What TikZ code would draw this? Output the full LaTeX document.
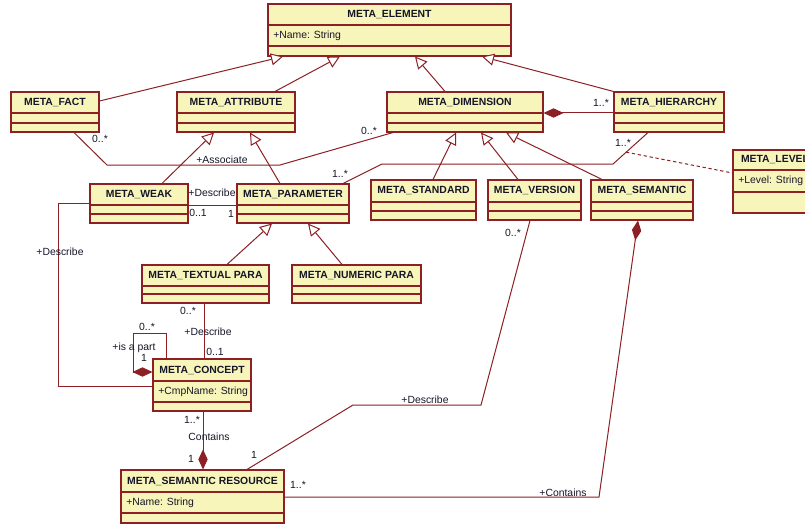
\documentclass[tikz,border=0pt]{standalone}
\usepackage{fontspec}
\setmainfont{Liberation Sans}
\usetikzlibrary{arrows.meta,calc}
\definecolor{umlred}{RGB}{140,32,36}
\definecolor{umlfill}{RGB}{248,245,187}
\definecolor{umltext}{RGB}{22,22,40}
\newcommand{\umlclass}[9]{%
  \node[classbox, minimum width={(#4-#2)*0.75pt}, minimum height={(#5-#3)*0.75pt}] (#1) at ({(#2+#4)/2},{(#3+#5)/2}) {};
  \draw[boxline] (#2,#6) -- (#4,#6) (#2,#7) -- (#4,#7);
  \node[titletext] (#1-title) at ({(#2+#4)/2},{(#3+#6)/2}) {#8};
  \if\relax\detokenize{#9}\relax\else
    \node[attrtext] (#1-attr) at ({#2+5},{(#6+#7)/2}) {#9};
  \fi
}
\begin{document}
\begin{tikzpicture}[x=0.75pt,y=-0.75pt,
  font=\fontsize{7.8}{9}\selectfont,
  classbox/.style={draw=umlred, fill=umlfill, line width=0.8pt, inner sep=0pt, rectangle},
  boxline/.style={draw=umlred, line width=0.8pt},
  titletext/.style={font=\fontsize{7.8}{9}\selectfont\bfseries, text=umltext, inner sep=0pt},
  attrtext/.style={anchor=west, text=umltext, inner sep=0pt},
  conn/.style={draw=umlred, line width=0.75pt},
  gen/.style={conn, -{Triangle[length=9pt,width=9pt,fill=white]}},
  comp/.style={conn, -{Diamond[length=15pt,width=7pt]}},
  lbl/.style={text=umltext, inner sep=0pt}]
\clip (0,0) rectangle (805,524);
\fill[white] (0,0) rectangle (805,524);

% classes
\umlclass{elem}{268}{4}{511}{56}{25}{46}{META\_ELEMENT}{+Name: String}
\umlclass{fact}{11}{92}{99}{132}{113}{123}{META\_FACT}{}
\umlclass{attr}{177}{92}{295}{132}{113}{123}{META\_ATTRIBUTE}{}
\umlclass{dim}{387}{92}{543}{132}{113}{123}{META\_DIMENSION}{}
\umlclass{hier}{614}{92}{724}{132}{113}{123}{META\_HIERARCHY}{}
\umlclass{level}{733}{150}{817}{213}{170}{192}{META\_LEVEL}{+Level: String}
\umlclass{weak}{90}{184}{188}{223}{205}{214}{META\_WEAK}{}
\umlclass{param}{237}{184}{349}{223}{205}{214}{META\_PARAMETER}{}
\umlclass{std}{371}{180}{476}{220}{202}{211}{META\_STANDARD}{}
\umlclass{ver}{488}{180}{581}{220}{202}{211}{META\_VERSION}{}
\umlclass{sem}{591}{180}{693}{220}{202}{211}{META\_SEMANTIC}{}
\umlclass{textual}{142}{265}{269}{303}{286}{294}{META\_TEXTUAL PARA}{}
\umlclass{numeric}{292}{265}{421}{303}{286}{294}{META\_NUMERIC PARA}{}
\umlclass{concept}{153}{359}{251}{411}{381}{402}{META\_CONCEPT}{+CmpName: String}
\umlclass{sr}{121}{470}{284}{523}{492}{513}{META\_SEMANTIC RESOURCE}{+Name: String}

% generalizations
\draw[gen] (fact.east |- 0,101) -- (elem.south -| 283,0);
\draw[gen] (attr.north -| 275,0) -- (elem.south -| 340,0);
\draw[gen] (dim.north -| 445,0) -- (elem.south -| 415,0);
\draw[gen] (hier.north west) -- (elem.south -| 482,0);
\draw[gen] (weak.north -| 162,0) -- (attr.south -| 214,0);
\draw[gen] (param.north -| 280,0) -- (attr.south -| 250,0);
\draw[gen] (std.north -| 433,0) -- (dim.south -| 456,0);
\draw[gen] (ver.north -| 518,0) -- (dim.south -| 481,0);
\draw[gen] (sem.north -| 602,0) -- (dim.south -| 506,0);
\draw[gen] (textual.north -| 227,0) -- (param.south -| 272,0);
\draw[gen] (numeric.north -| 342,0) -- (param.south -| 308,0);

% composition dimension - hierarchy
\draw[comp] (hier.west |- 0,113) -- (dim.east |- 0,113);
\node[lbl] (l1) at (601,103) {1..*};

% association fact - dimension
\coordinate (fa1) at (107,165);
\coordinate (fa2) at (280,165);
\draw[conn] (fact.south -| 74,0) -- (fa1) -- (fa2) -- (dim.south -| 393,0);
\node[lbl] (l2) at (100,139) {0..*};
\node[lbl] (l3) at (369,131) {0..*};
\node[lbl] (l4) at (222,160) {+Associate};

% association parameter - hierarchy
\coordinate (ph1) at (382,164);
\coordinate (ph2) at (613,164);
\coordinate (ph3) at (648,132);
\draw[conn] (param.north -| 343,0) -- (ph1) -- (ph2) -- (hier.south -| 648,0);
\node[lbl] (l5) at (340,174) {1..*};
\node[lbl] (l6) at (623,143) {1..*};
\coordinate (lvlA) at ($(ph2)!0.37!(ph3)$);
\draw[conn, dash pattern=on 2.5pt off 2pt] (lvlA) -- (level.west |- 0,173);

% weak - parameter
\draw[conn] (weak.east |- 0,205) -- (param.west |- 0,205);
\node[lbl] (l7) at (212,193) {+Describe};
\node[lbl] (l8) at (198,213) {0..1};
\node[lbl] (l9) at (231,214) {1};

% weak - concept
\coordinate (wc1) at (58,203);
\coordinate (wc2) at (58,386);
\draw[conn] (weak.west |- 0,203) -- (wc1) -- (wc2) -- (concept.west |- 0,386);
\node[lbl] (l10) at (60,252) {+Describe};

% textual - concept
\draw[conn] (textual.south -| 204,0) -- (concept.north -| 204,0);
\node[lbl] (l11) at (188,311) {0..*};
\node[lbl] (l12) at (208,332) {+Describe};
\node[lbl] (l13) at (215,352) {0..1};

% concept self association
\coordinate (cs1) at (166,333);
\coordinate (cs2) at (133,333);
\coordinate (cs3) at (133,372);
\draw[comp] (concept.north -| 166,0) -- (cs1) -- (cs2) -- (cs3) -- (concept.west |- 0,372);
\node[lbl] (l14) at (147,327) {0..*};
\node[lbl] (l15) at (134,348) {+is a part};
\node[lbl] (l16) at (144,358) {1};

% concept - semantic resource
\draw[comp] (concept.south -| 203,0) -- (sr.north -| 203,0);
\node[lbl] (l17) at (192,420) {1..*};
\node[lbl] (l18) at (209,437) {Contains};
\node[lbl] (l19) at (191,459) {1};

% version - semantic resource
\coordinate (vs1) at (481,405);
\coordinate (vs2) at (353,405);
\draw[conn] (ver.south -| 530,0) -- (vs1) -- (vs2) -- (sr.north -| 247,0);
\node[lbl] (l20) at (513,233) {0..*};
\node[lbl] (l21) at (425,400) {+Describe};
\node[lbl] (l22) at (254,455) {1};

% semantic - semantic resource
\coordinate (ss1) at (599,497);
\draw[comp] (sr.east |- 0,497) -- (ss1) -- (sem.south -| 638,0);
\node[lbl] (l23) at (298,485) {1..*};
\node[lbl] (l24) at (563,493) {+Contains};
\end{tikzpicture}
\end{document}
